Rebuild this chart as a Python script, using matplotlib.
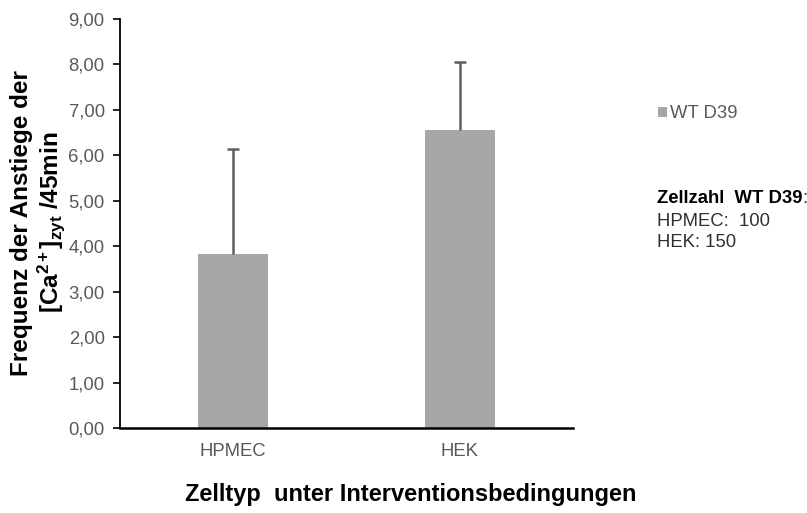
import matplotlib
matplotlib.use("Agg")
import matplotlib.pyplot as plt
import numpy as np

plt.rcParams['font.family'] = ['Liberation Sans', 'DejaVu Sans']
plt.rcParams['mathtext.fontset'] = 'custom'
plt.rcParams['mathtext.rm'] = 'Liberation Sans'
plt.rcParams['mathtext.bf'] = 'Liberation Sans:bold'
plt.rcParams['mathtext.it'] = 'Liberation Sans:italic'

# Data
categories = ["HPMEC", "HEK"]
means = [3.83, 6.56]
errors = [2.31, 1.50]
series_name = "WT D39"
cell_counts = [100, 150]
y_ticks = [0, 1, 2, 3, 4, 5, 6, 7, 8, 9]

bar_color = "#A6A6A6"
err_color = "#5E5E5E"
tick_color = "#595959"
note_color = "#303030"

fig = plt.figure(figsize=(8.07, 5.13), dpi=100)
ax = fig.add_axes([120 / 807, 85 / 513, 453 / 807, 409 / 513])

x = np.arange(len(categories))
ax.bar(x, means, width=0.31, color=bar_color, zorder=2, label=series_name)
eb = ax.errorbar(x, means, yerr=[np.zeros(len(errors)), errors], fmt="none",
                 ecolor=err_color, elinewidth=1.8, capsize=4.5, capthick=1.8,
                 zorder=3)
# only the upper whisker carries a cap
eb[1][0].set_visible(False)

ax.set_xlim(-0.5, 1.5)
ax.set_ylim(0, 9)
ax.set_yticks(y_ticks)
ax.set_yticklabels([f"{v:.2f}".replace(".", ",") for v in y_ticks],
                   fontsize=13.3, color=tick_color)
ax.set_xticks(x)
ax.set_xticklabels(categories, fontsize=13.3, color=tick_color)
ax.tick_params(axis="x", length=0, pad=11)
ax.tick_params(axis="y", length=5, width=1.2, color="black", pad=6)

for side in ("top", "right"):
    ax.spines[side].set_visible(False)
ax.spines["left"].set_linewidth(1.3)
ax.spines["bottom"].set_linewidth(1.8)
ax.spines["left"].set_color("black")
ax.spines["bottom"].set_color("black")

# Axis titles
fig.text(22 / 807, 1 - 223 / 513, "Frequenz der Anstiege der", rotation=90,
         ha="center", va="center", fontsize=17.5, fontweight="bold")
fig.text(51 / 807, 1 - 222 / 513,
         r"[Ca$^{\mathbf{2+}}$]$_{\mathbf{zyt}}$ /45min", rotation=90,
         ha="center", va="center", fontsize=17.5, fontweight="bold")
fig.text(411 / 807, 1 - 495 / 513, "Zelltyp  unter Interventionsbedingungen",
         ha="center", va="center", fontsize=17, fontweight="bold")

# Legend
leg = ax.legend(loc="center left", bbox_to_anchor=(658 / 807, 1 - 114 / 513),
                bbox_transform=fig.transFigure, frameon=False, fontsize=13.3,
                handlelength=0.5, handleheight=0.5, handletextpad=0.15,
                borderpad=0, borderaxespad=0)
for t in leg.get_texts():
    t.set_color(tick_color)

# Cell count note
head = fig.text(657 / 807, 1 - 199 / 513, "Zellzahl  WT D39", fontsize=13.3,
                fontweight="bold", va="center", ha="left", color="black")
fig.canvas.draw()
bb = head.get_window_extent()
fig.text(bb.x1 / fig.bbox.width, 1 - 199 / 513, ":", fontsize=13.3,
         va="center", ha="left", color=note_color)
for i, (cat, n) in enumerate(zip(categories, cell_counts)):
    sep = ":  " if cat == "HPMEC" else ": "
    fig.text(657 / 807, 1 - (221 + 22 * i) / 513, f"{cat}{sep}{n}",
             fontsize=13.3, va="center", ha="left", color=note_color)

fig.savefig("out.png", dpi=100)
